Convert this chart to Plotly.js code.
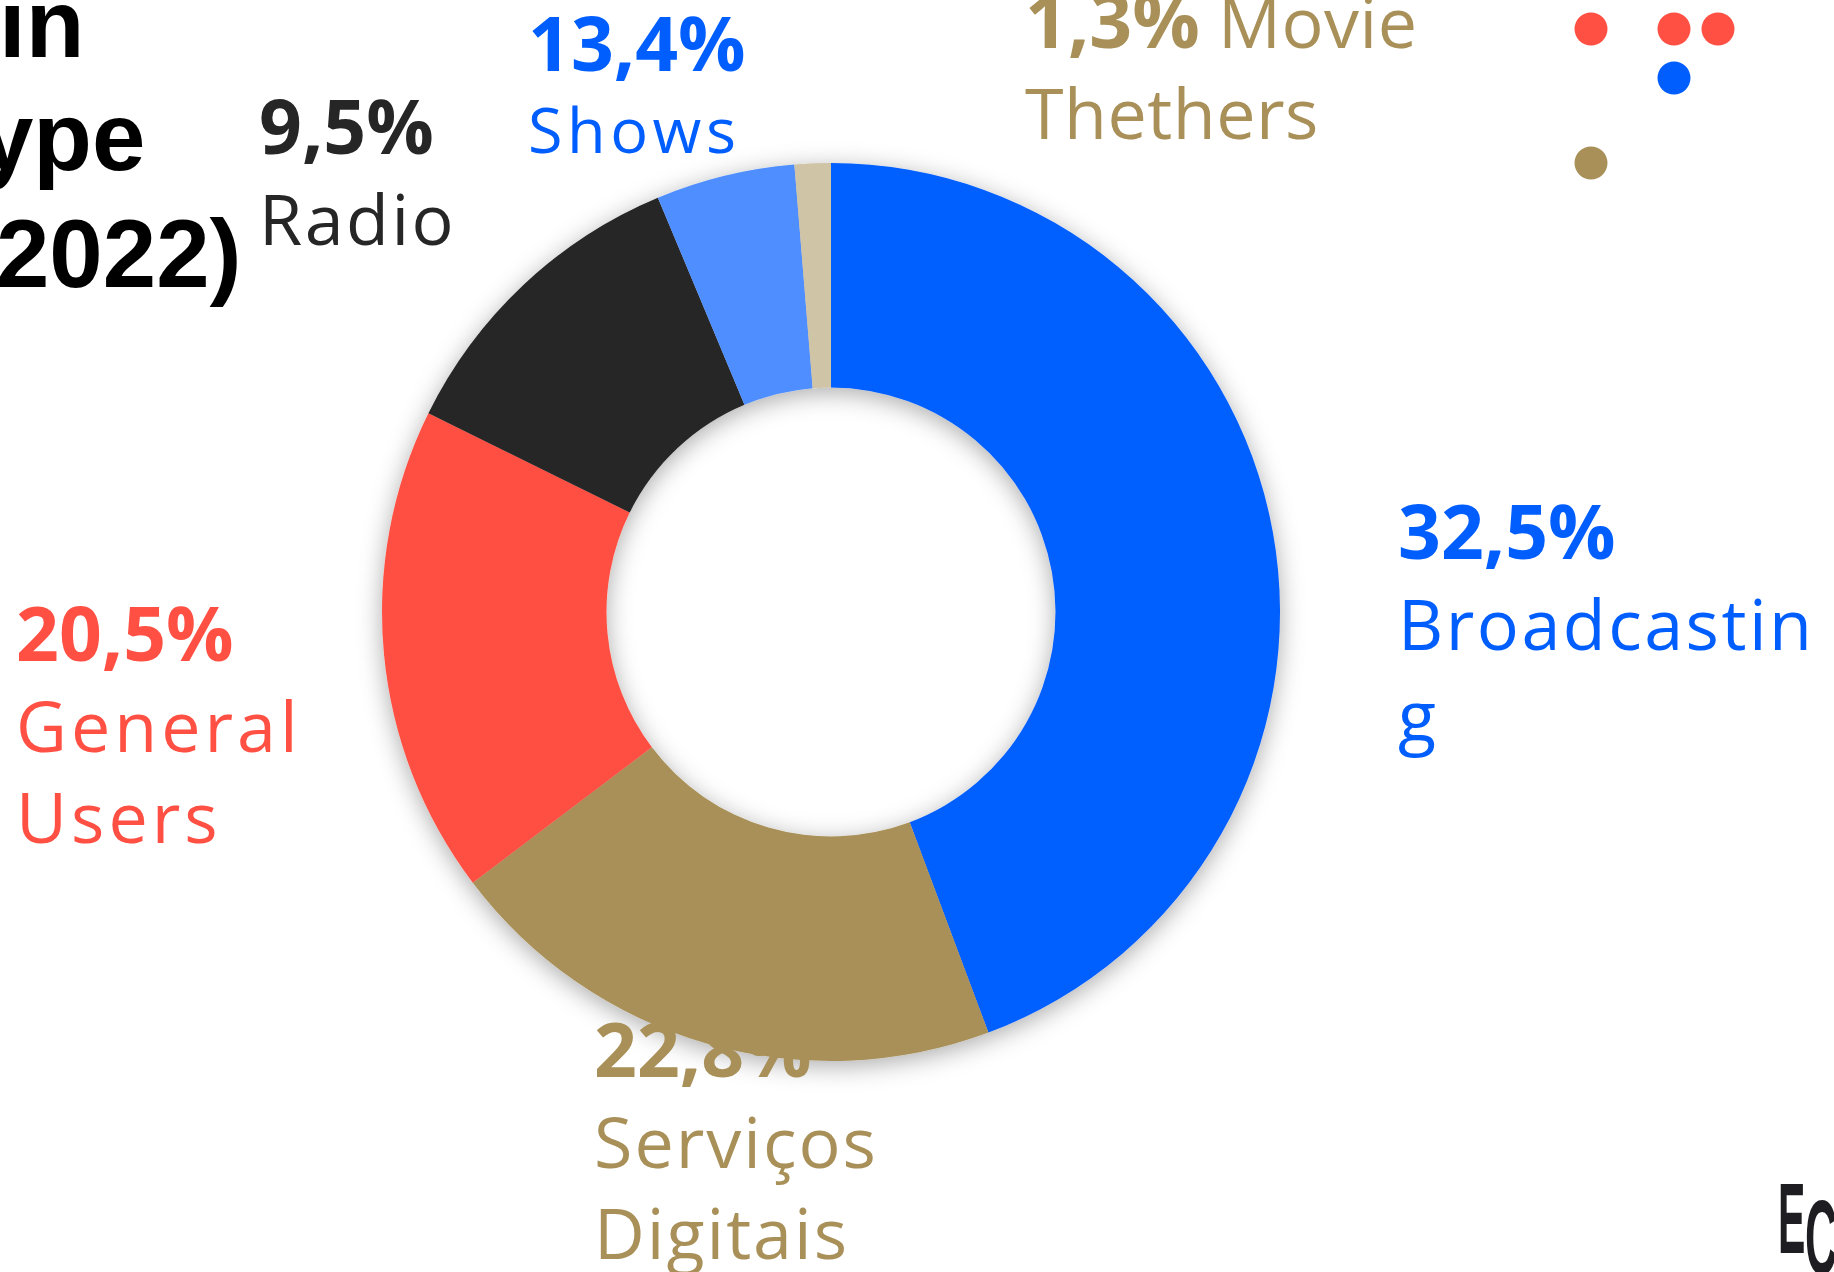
<!DOCTYPE html>
<html>
<head>
<meta charset="utf-8">
<script src="https://cdn.plot.ly/plotly-3.0.1.min.js"></script>
<style>
  html, body { margin: 0; padding: 0; background: #ffffff; }
  #chart { width: 1834px; height: 1272px; }
</style>
</head>
<body>
<div id="chart"></div>
<script>
// ---------------- DATA ----------------
const categories   = ['Broadcasting', 'Serviços Digitais', 'General Users', 'Radio', 'Shows', 'Movie Thethers'];
// slice sizes as drawn in the picture (share of the ring, %)
const sliceValues  = [44.3, 20.4, 17.6, 11.4, 5.0, 1.3];
// percentages printed in the labels
const labelPercents = ['32,5%', '22,8%', '20,5%', '9,5%', '13,4%', '1,3%'];
// label text lines (as wrapped in the picture)
const labelLines = [['Broadcastin', 'g'], ['Serviços', 'Digitais'], ['General', 'Users'], ['Radio'], ['Shows'], ['Movie', 'Thethers']];
const titleLines = ['in', 'type', '(2022)'];
const logoLetters = ['E', 'C'];

// ---------------- STYLE / LAYOUT ----------------
const W = 1834, H = 1272;
const sliceColors = ['#005EFF', '#A89058', '#FF5043', '#262626', '#4F8EFF', '#CFC4A6'];
const labelColors = ['#005EFF', '#A89058', '#FF5043', '#262626', '#005EFF', '#A89058'];
const labelFont = 'Open Sans, Lato, sans-serif';
const OS_ASC = 1.069;   // Open Sans ascent (em)
const LS_MID = 0.347;   // baseline -> bbox centre, Liberation Sans
const PCT_SIZE = 75;
const LETTER_SP = [2.5, 2, 4, 2.5, 4.5, 0.5];

// label placement: [left, firstBaseline, lineSize, percentInlineWithFirstLine]
const labelPlace = [
  [1396, 558, 70, false],
  [592, 1076, 70, false],
  [14, 660, 70, false],
  [257, 153, 70, false],
  [526, 70, 63, false],
  [1023, 47, 70, true]
];

const px = x => x / W;
const py = y => 1 - y / H;

function ann(text, x, y, yanchor, size, color, family, weight, anchor) {
  return {
    xref: 'paper', yref: 'paper',
    x: px(x), y: py(y),
    xanchor: anchor || 'left', yanchor: yanchor,
    text: text, showarrow: false, align: anchor === 'right' ? 'right' : 'left',
    font: { family: family, size: size, color: color, weight: weight }
  };
}

const annotations = [];
categories.forEach((c, i) => {
  const p = labelPlace[i];
  const pct = '<span style="font-size:' + PCT_SIZE + 'px;font-weight:bold">' + labelPercents[i] + '</span>';
  const sp = t => '<span style="letter-spacing:' + LETTER_SP[i] + 'px">' + t + '</span>';
  let lines;
  if (p[3]) {
    lines = [pct + ' ' + sp(labelLines[i][0])].concat(labelLines[i].slice(1).map(sp));
  } else {
    lines = [pct].concat(labelLines[i].map(sp));
  }
  const top = p[1] - OS_ASC * PCT_SIZE - 1;
  annotations.push(ann(lines.join('<br>'), p[0], top, 'top', p[2], labelColors[i], labelFont, 400));
});

// title (cropped at the left edge)
const titleRight = [86, 147, 244];
const titleBase = [57, 170, 287];
titleLines.forEach((t, i) => {
  annotations.push(ann(t, titleRight[i], titleBase[i] - LS_MID * 96, 'middle', 96, '#000000', 'Liberation Sans, Arial, sans-serif', 700, 'right'));
});

// logo (cropped, condensed letters)
const logoLeft = [1776, 1803], logoBase = [1253, 1274], logoSize = [100, 106], logoScale = [0.41, 0.42];
const logoIdx = [];
logoLetters.forEach((t, i) => {
  logoIdx.push(annotations.length);
  annotations.push(ann(t, logoLeft[i], logoBase[i] - LS_MID * logoSize[i], 'middle', logoSize[i], '#1E1E22', 'Liberation Sans, Arial, sans-serif', 700));
});

// decorative dots top right
const dotR = 16.5;
const dots = [[1591, 29, '#FF5043'], [1674, 29, '#FF5043'], [1718, 29, '#FF5043'], [1674, 78, '#005EFF'], [1591, 163, '#A89058']];
const shapes = dots.map(d => ({
  type: 'circle', xref: 'paper', yref: 'paper',
  x0: px(d[0] - dotR), x1: px(d[0] + dotR), y0: py(d[1] + dotR), y1: py(d[1] - dotR),
  fillcolor: d[2], line: { width: 0 }
}));

// donut geometry
const cx = 831, cy = 612, R = 449;

const trace = {
  type: 'pie',
  labels: categories,
  values: sliceValues,
  sort: false,
  direction: 'clockwise',
  rotation: 0,
  hole: 0.5,
  textinfo: 'none',
  hoverinfo: 'skip',
  showlegend: false,
  marker: { colors: sliceColors, line: { width: 0 } },
  domain: { x: [px(cx - R), px(cx + R)], y: [py(cy + R), py(cy - R)] }
};

const layout = {
  width: W, height: H,
  margin: { l: 0, r: 0, t: 0, b: 0, pad: 0 },
  paper_bgcolor: '#ffffff',
  plot_bgcolor: '#ffffff',
  showlegend: false,
  annotations: annotations,
  shapes: shapes
};

Plotly.newPlot('chart', [trace], layout, { displayModeBar: false, staticPlot: true }).then(gd => {
  const svg = gd.querySelector('svg.main-svg');
  const ns = 'http://www.w3.org/2000/svg';
  let defs = svg.querySelector('defs');
  if (!defs) { defs = document.createElementNS(ns, 'defs'); svg.insertBefore(defs, svg.firstChild); }
  const f = document.createElementNS(ns, 'filter');
  f.setAttribute('id', 'donutShadow');
  f.setAttribute('x', '-20%'); f.setAttribute('y', '-20%');
  f.setAttribute('width', '140%'); f.setAttribute('height', '140%');
  const ds = document.createElementNS(ns, 'feDropShadow');
  ds.setAttribute('dx', '0'); ds.setAttribute('dy', '5');
  ds.setAttribute('stdDeviation', '12');
  ds.setAttribute('flood-color', '#000000');
  ds.setAttribute('flood-opacity', '0.33');
  f.appendChild(ds);
  defs.appendChild(f);
  const tr = gd.querySelector('.pielayer .trace');
  if (tr) tr.setAttribute('filter', 'url(#donutShadow)');

  // condense the logo letters horizontally
  logoIdx.forEach((idx, i) => {
    const g = gd.querySelector('.annotation[data-index="' + idx + '"]');
    if (!g) return;
    const t = g.querySelector('text.annotation-text');
    if (!t) return;
    const bb = t.getBBox();
    const x0 = bb.x;
    t.setAttribute('transform', 'translate(' + x0 + ',0) scale(' + logoScale[i] + ',1) translate(' + (-x0) + ',0)');
  });
});
</script>
</body>
</html>
